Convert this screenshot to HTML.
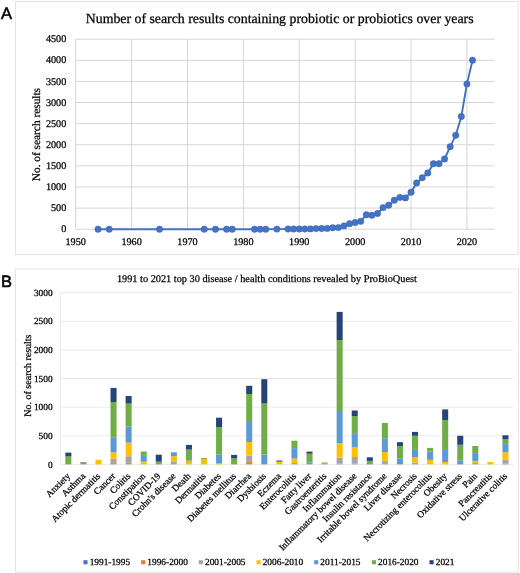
<!DOCTYPE html><html><head><meta charset="utf-8"><style>html,body{margin:0;padding:0;background:#fff;overflow:hidden}svg{display:block;will-change:transform}text{font-family:'Liberation Serif',serif;fill:#000;stroke:#000;stroke-width:0.25px;text-rendering:geometricPrecision}</style></head><body>
<svg width="520" height="573" viewBox="0 0 520 573">
<rect x="15.5" y="1.5" width="502.5" height="253.1" fill="none" stroke="#e4e4e4" stroke-width="1"/>
<rect x="15.5" y="269.0" width="503" height="303" fill="none" stroke="#e4e4e4" stroke-width="1"/>
<text x="0.9" y="19.3" style="font-family:'Liberation Sans',sans-serif;font-size:16.5px;stroke-width:0.55px">A</text>
<text x="1" y="287.2" style="font-family:'Liberation Sans',sans-serif;font-size:16.5px;stroke-width:0.55px">B</text>
<text x="85.8" y="23.3" style="font-size:13.82px">Number of search results containing probiotic or probiotics over years</text>
<line x1="75.7" x2="494.6" y1="229.20" y2="229.20" stroke="#d6d6d6" stroke-width="1"/>
<text x="66.3" y="232.30" text-anchor="end" style="font-size:10.2px">0</text>
<line x1="75.7" x2="494.6" y1="208.09" y2="208.09" stroke="#d6d6d6" stroke-width="1"/>
<text x="66.3" y="211.19" text-anchor="end" style="font-size:10.2px">500</text>
<line x1="75.7" x2="494.6" y1="186.98" y2="186.98" stroke="#d6d6d6" stroke-width="1"/>
<text x="66.3" y="190.08" text-anchor="end" style="font-size:10.2px">1000</text>
<line x1="75.7" x2="494.6" y1="165.87" y2="165.87" stroke="#d6d6d6" stroke-width="1"/>
<text x="66.3" y="168.97" text-anchor="end" style="font-size:10.2px">1500</text>
<line x1="75.7" x2="494.6" y1="144.76" y2="144.76" stroke="#d6d6d6" stroke-width="1"/>
<text x="66.3" y="147.86" text-anchor="end" style="font-size:10.2px">2000</text>
<line x1="75.7" x2="494.6" y1="123.64" y2="123.64" stroke="#d6d6d6" stroke-width="1"/>
<text x="66.3" y="126.74" text-anchor="end" style="font-size:10.2px">2500</text>
<line x1="75.7" x2="494.6" y1="102.53" y2="102.53" stroke="#d6d6d6" stroke-width="1"/>
<text x="66.3" y="105.63" text-anchor="end" style="font-size:10.2px">3000</text>
<line x1="75.7" x2="494.6" y1="81.42" y2="81.42" stroke="#d6d6d6" stroke-width="1"/>
<text x="66.3" y="84.52" text-anchor="end" style="font-size:10.2px">3500</text>
<line x1="75.7" x2="494.6" y1="60.31" y2="60.31" stroke="#d6d6d6" stroke-width="1"/>
<text x="66.3" y="63.41" text-anchor="end" style="font-size:10.2px">4000</text>
<line x1="75.7" x2="494.6" y1="39.20" y2="39.20" stroke="#d6d6d6" stroke-width="1"/>
<text x="66.3" y="42.30" text-anchor="end" style="font-size:10.2px">4500</text>
<line x1="75.70" x2="75.70" y1="39.20" y2="229.2" stroke="#d6d6d6" stroke-width="1"/>
<text x="75.70" y="245" text-anchor="middle" style="font-size:10.2px">1950</text>
<line x1="131.59" x2="131.59" y1="39.20" y2="229.2" stroke="#d6d6d6" stroke-width="1"/>
<text x="131.59" y="245" text-anchor="middle" style="font-size:10.2px">1960</text>
<line x1="187.48" x2="187.48" y1="39.20" y2="229.2" stroke="#d6d6d6" stroke-width="1"/>
<text x="187.48" y="245" text-anchor="middle" style="font-size:10.2px">1970</text>
<line x1="243.37" x2="243.37" y1="39.20" y2="229.2" stroke="#d6d6d6" stroke-width="1"/>
<text x="243.37" y="245" text-anchor="middle" style="font-size:10.2px">1980</text>
<line x1="299.26" x2="299.26" y1="39.20" y2="229.2" stroke="#d6d6d6" stroke-width="1"/>
<text x="299.26" y="245" text-anchor="middle" style="font-size:10.2px">1990</text>
<line x1="355.15" x2="355.15" y1="39.20" y2="229.2" stroke="#d6d6d6" stroke-width="1"/>
<text x="355.15" y="245" text-anchor="middle" style="font-size:10.2px">2000</text>
<line x1="411.04" x2="411.04" y1="39.20" y2="229.2" stroke="#d6d6d6" stroke-width="1"/>
<text x="411.04" y="245" text-anchor="middle" style="font-size:10.2px">2010</text>
<line x1="466.93" x2="466.93" y1="39.20" y2="229.2" stroke="#d6d6d6" stroke-width="1"/>
<text x="466.93" y="245" text-anchor="middle" style="font-size:10.2px">2020</text>
<text x="0" y="0" text-anchor="middle" transform="translate(40.2 134.6) rotate(-90)" style="font-size:11.35px">No. of search results</text>
<polyline points="98.06,229.20 109.23,229.20 159.54,229.20 204.25,229.20 215.43,229.20 226.60,229.20 232.19,229.20 254.55,229.20 260.14,229.20 265.73,229.20 276.90,229.10 288.08,229.00 293.67,229.00 299.26,229.00 304.85,229.00 310.44,228.90 316.03,228.60 321.62,228.50 327.21,228.40 332.79,227.80 338.38,227.60 343.97,225.90 349.56,223.70 355.15,222.50 360.74,221.30 366.33,214.70 371.92,215.30 377.51,213.50 383.10,207.60 388.68,205.20 394.27,200.30 399.86,197.40 405.45,197.90 411.04,192.20 416.63,183.00 422.22,177.70 427.81,173.00 433.40,163.70 438.99,163.70 444.57,159.00 450.16,146.70 455.75,135.30 461.34,116.50 466.93,83.90 472.52,60.20" fill="none" stroke="#4472c4" stroke-width="1.9" stroke-linejoin="round"/>
<circle cx="98.06" cy="229.20" r="3.2" fill="#4472c4" stroke="#3d68b8" stroke-width="0.5"/>
<circle cx="109.23" cy="229.20" r="3.2" fill="#4472c4" stroke="#3d68b8" stroke-width="0.5"/>
<circle cx="159.54" cy="229.20" r="3.2" fill="#4472c4" stroke="#3d68b8" stroke-width="0.5"/>
<circle cx="204.25" cy="229.20" r="3.2" fill="#4472c4" stroke="#3d68b8" stroke-width="0.5"/>
<circle cx="215.43" cy="229.20" r="3.2" fill="#4472c4" stroke="#3d68b8" stroke-width="0.5"/>
<circle cx="226.60" cy="229.20" r="3.2" fill="#4472c4" stroke="#3d68b8" stroke-width="0.5"/>
<circle cx="232.19" cy="229.20" r="3.2" fill="#4472c4" stroke="#3d68b8" stroke-width="0.5"/>
<circle cx="254.55" cy="229.20" r="3.2" fill="#4472c4" stroke="#3d68b8" stroke-width="0.5"/>
<circle cx="260.14" cy="229.20" r="3.2" fill="#4472c4" stroke="#3d68b8" stroke-width="0.5"/>
<circle cx="265.73" cy="229.20" r="3.2" fill="#4472c4" stroke="#3d68b8" stroke-width="0.5"/>
<circle cx="276.90" cy="229.10" r="3.2" fill="#4472c4" stroke="#3d68b8" stroke-width="0.5"/>
<circle cx="288.08" cy="229.00" r="3.2" fill="#4472c4" stroke="#3d68b8" stroke-width="0.5"/>
<circle cx="293.67" cy="229.00" r="3.2" fill="#4472c4" stroke="#3d68b8" stroke-width="0.5"/>
<circle cx="299.26" cy="229.00" r="3.2" fill="#4472c4" stroke="#3d68b8" stroke-width="0.5"/>
<circle cx="304.85" cy="229.00" r="3.2" fill="#4472c4" stroke="#3d68b8" stroke-width="0.5"/>
<circle cx="310.44" cy="228.90" r="3.2" fill="#4472c4" stroke="#3d68b8" stroke-width="0.5"/>
<circle cx="316.03" cy="228.60" r="3.2" fill="#4472c4" stroke="#3d68b8" stroke-width="0.5"/>
<circle cx="321.62" cy="228.50" r="3.2" fill="#4472c4" stroke="#3d68b8" stroke-width="0.5"/>
<circle cx="327.21" cy="228.40" r="3.2" fill="#4472c4" stroke="#3d68b8" stroke-width="0.5"/>
<circle cx="332.79" cy="227.80" r="3.2" fill="#4472c4" stroke="#3d68b8" stroke-width="0.5"/>
<circle cx="338.38" cy="227.60" r="3.2" fill="#4472c4" stroke="#3d68b8" stroke-width="0.5"/>
<circle cx="343.97" cy="225.90" r="3.2" fill="#4472c4" stroke="#3d68b8" stroke-width="0.5"/>
<circle cx="349.56" cy="223.70" r="3.2" fill="#4472c4" stroke="#3d68b8" stroke-width="0.5"/>
<circle cx="355.15" cy="222.50" r="3.2" fill="#4472c4" stroke="#3d68b8" stroke-width="0.5"/>
<circle cx="360.74" cy="221.30" r="3.2" fill="#4472c4" stroke="#3d68b8" stroke-width="0.5"/>
<circle cx="366.33" cy="214.70" r="3.2" fill="#4472c4" stroke="#3d68b8" stroke-width="0.5"/>
<circle cx="371.92" cy="215.30" r="3.2" fill="#4472c4" stroke="#3d68b8" stroke-width="0.5"/>
<circle cx="377.51" cy="213.50" r="3.2" fill="#4472c4" stroke="#3d68b8" stroke-width="0.5"/>
<circle cx="383.10" cy="207.60" r="3.2" fill="#4472c4" stroke="#3d68b8" stroke-width="0.5"/>
<circle cx="388.68" cy="205.20" r="3.2" fill="#4472c4" stroke="#3d68b8" stroke-width="0.5"/>
<circle cx="394.27" cy="200.30" r="3.2" fill="#4472c4" stroke="#3d68b8" stroke-width="0.5"/>
<circle cx="399.86" cy="197.40" r="3.2" fill="#4472c4" stroke="#3d68b8" stroke-width="0.5"/>
<circle cx="405.45" cy="197.90" r="3.2" fill="#4472c4" stroke="#3d68b8" stroke-width="0.5"/>
<circle cx="411.04" cy="192.20" r="3.2" fill="#4472c4" stroke="#3d68b8" stroke-width="0.5"/>
<circle cx="416.63" cy="183.00" r="3.2" fill="#4472c4" stroke="#3d68b8" stroke-width="0.5"/>
<circle cx="422.22" cy="177.70" r="3.2" fill="#4472c4" stroke="#3d68b8" stroke-width="0.5"/>
<circle cx="427.81" cy="173.00" r="3.2" fill="#4472c4" stroke="#3d68b8" stroke-width="0.5"/>
<circle cx="433.40" cy="163.70" r="3.2" fill="#4472c4" stroke="#3d68b8" stroke-width="0.5"/>
<circle cx="438.99" cy="163.70" r="3.2" fill="#4472c4" stroke="#3d68b8" stroke-width="0.5"/>
<circle cx="444.57" cy="159.00" r="3.2" fill="#4472c4" stroke="#3d68b8" stroke-width="0.5"/>
<circle cx="450.16" cy="146.70" r="3.2" fill="#4472c4" stroke="#3d68b8" stroke-width="0.5"/>
<circle cx="455.75" cy="135.30" r="3.2" fill="#4472c4" stroke="#3d68b8" stroke-width="0.5"/>
<circle cx="461.34" cy="116.50" r="3.2" fill="#4472c4" stroke="#3d68b8" stroke-width="0.5"/>
<circle cx="466.93" cy="83.90" r="3.2" fill="#4472c4" stroke="#3d68b8" stroke-width="0.5"/>
<circle cx="472.52" cy="60.20" r="3.2" fill="#4472c4" stroke="#3d68b8" stroke-width="0.5"/>
<text x="116.9" y="281.8" style="font-size:10.31px">1991 to 2021 top 30 disease / health conditions revealed by ProBioQuest</text>
<line x1="60.8" x2="513.0" y1="464.40" y2="464.40" stroke="#eaeaea" stroke-width="1"/>
<text x="52.6" y="467.60" text-anchor="end" style="font-size:9.35px">0</text>
<line x1="60.8" x2="513.0" y1="435.77" y2="435.77" stroke="#eaeaea" stroke-width="1"/>
<text x="52.6" y="438.97" text-anchor="end" style="font-size:9.35px">500</text>
<line x1="60.8" x2="513.0" y1="407.14" y2="407.14" stroke="#eaeaea" stroke-width="1"/>
<text x="52.6" y="410.34" text-anchor="end" style="font-size:9.35px">1000</text>
<line x1="60.8" x2="513.0" y1="378.51" y2="378.51" stroke="#eaeaea" stroke-width="1"/>
<text x="52.6" y="381.71" text-anchor="end" style="font-size:9.35px">1500</text>
<line x1="60.8" x2="513.0" y1="349.88" y2="349.88" stroke="#eaeaea" stroke-width="1"/>
<text x="52.6" y="353.08" text-anchor="end" style="font-size:9.35px">2000</text>
<line x1="60.8" x2="513.0" y1="321.25" y2="321.25" stroke="#eaeaea" stroke-width="1"/>
<text x="52.6" y="324.45" text-anchor="end" style="font-size:9.35px">2500</text>
<line x1="60.8" x2="513.0" y1="292.62" y2="292.62" stroke="#eaeaea" stroke-width="1"/>
<text x="52.6" y="295.82" text-anchor="end" style="font-size:9.35px">3000</text>
<line x1="60.5" x2="60.5" y1="292.62" y2="464.4" stroke="#eaeaea" stroke-width="1"/>
<text x="0" y="0" text-anchor="middle" transform="translate(30.6 375.6) rotate(-90)" style="font-size:10px">No. of search results</text>
<rect x="65.32" y="456.40" width="6.03" height="8.00" fill="#70ad47"/>
<rect x="65.32" y="452.60" width="6.03" height="3.80" fill="#264478"/>
<text x="70.74" y="476.60" text-anchor="end" transform="rotate(-45 70.74 476.60)" style="font-size:9.3px">Anxiety</text>
<rect x="80.40" y="462.00" width="6.03" height="2.40" fill="#8c9a84"/>
<text x="85.81" y="476.60" text-anchor="end" transform="rotate(-45 85.81 476.60)" style="font-size:9.3px">Asthma</text>
<rect x="95.47" y="459.80" width="6.03" height="4.60" fill="#ffc000"/>
<text x="100.88" y="476.60" text-anchor="end" transform="rotate(-45 100.88 476.60)" style="font-size:9.3px">Atopic dermatitis</text>
<rect x="110.54" y="462.20" width="6.03" height="2.20" fill="#c8917a"/>
<rect x="110.54" y="458.60" width="6.03" height="3.60" fill="#a5a5a5"/>
<rect x="110.54" y="452.30" width="6.03" height="6.30" fill="#ffc000"/>
<rect x="110.54" y="437.80" width="6.03" height="14.50" fill="#5b9bd5"/>
<rect x="110.54" y="402.00" width="6.03" height="35.80" fill="#70ad47"/>
<rect x="110.54" y="387.90" width="6.03" height="14.10" fill="#264478"/>
<text x="115.96" y="476.60" text-anchor="end" transform="rotate(-45 115.96 476.60)" style="font-size:9.3px">Cancer</text>
<rect x="125.62" y="462.20" width="6.03" height="2.20" fill="#c8917a"/>
<rect x="125.62" y="456.20" width="6.03" height="6.00" fill="#a5a5a5"/>
<rect x="125.62" y="442.60" width="6.03" height="13.60" fill="#ffc000"/>
<rect x="125.62" y="426.50" width="6.03" height="16.10" fill="#5b9bd5"/>
<rect x="125.62" y="403.60" width="6.03" height="22.90" fill="#70ad47"/>
<rect x="125.62" y="396.00" width="6.03" height="7.60" fill="#264478"/>
<text x="131.03" y="476.60" text-anchor="end" transform="rotate(-45 131.03 476.60)" style="font-size:9.3px">Colitis</text>
<rect x="140.69" y="461.70" width="6.03" height="2.70" fill="#ffc000"/>
<rect x="140.69" y="455.90" width="6.03" height="5.80" fill="#5b9bd5"/>
<rect x="140.69" y="451.50" width="6.03" height="4.40" fill="#70ad47"/>
<text x="146.10" y="476.60" text-anchor="end" transform="rotate(-45 146.10 476.60)" style="font-size:9.3px">Constipation</text>
<rect x="155.76" y="461.70" width="6.03" height="2.70" fill="#70ad47"/>
<rect x="155.76" y="454.70" width="6.03" height="7.00" fill="#264478"/>
<text x="161.18" y="476.60" text-anchor="end" transform="rotate(-45 161.18 476.60)" style="font-size:9.3px">COVID-19</text>
<rect x="170.84" y="461.30" width="6.03" height="3.10" fill="#a5a5a5"/>
<rect x="170.84" y="456.20" width="6.03" height="5.10" fill="#ffc000"/>
<rect x="170.84" y="452.30" width="6.03" height="3.90" fill="#5b9bd5"/>
<text x="176.25" y="476.60" text-anchor="end" transform="rotate(-45 176.25 476.60)" style="font-size:9.3px">Crohn's disease</text>
<rect x="185.91" y="461.50" width="6.03" height="2.90" fill="#ffc000"/>
<rect x="185.91" y="460.60" width="6.03" height="0.90" fill="#5b9bd5"/>
<rect x="185.91" y="449.60" width="6.03" height="11.00" fill="#70ad47"/>
<rect x="185.91" y="444.90" width="6.03" height="4.70" fill="#264478"/>
<text x="191.32" y="476.60" text-anchor="end" transform="rotate(-45 191.32 476.60)" style="font-size:9.3px">Death</text>
<rect x="200.98" y="459.40" width="6.03" height="5.00" fill="#ffc000"/>
<rect x="200.98" y="458.10" width="6.03" height="1.30" fill="#70ad47"/>
<text x="206.40" y="476.60" text-anchor="end" transform="rotate(-45 206.40 476.60)" style="font-size:9.3px">Dermatitis</text>
<rect x="216.06" y="463.50" width="6.03" height="0.90" fill="#ffc000"/>
<rect x="216.06" y="454.40" width="6.03" height="9.10" fill="#5b9bd5"/>
<rect x="216.06" y="427.30" width="6.03" height="27.10" fill="#70ad47"/>
<rect x="216.06" y="417.70" width="6.03" height="9.60" fill="#264478"/>
<text x="221.47" y="476.60" text-anchor="end" transform="rotate(-45 221.47 476.60)" style="font-size:9.3px">Diabetes</text>
<rect x="231.13" y="458.30" width="6.03" height="6.10" fill="#70ad47"/>
<rect x="231.13" y="454.90" width="6.03" height="3.40" fill="#264478"/>
<text x="236.54" y="476.60" text-anchor="end" transform="rotate(-45 236.54 476.60)" style="font-size:9.3px">Diabetes mellitus</text>
<rect x="246.20" y="461.90" width="6.03" height="2.50" fill="#ed7d31"/>
<rect x="246.20" y="455.60" width="6.03" height="6.30" fill="#a5a5a5"/>
<rect x="246.20" y="442.00" width="6.03" height="13.60" fill="#ffc000"/>
<rect x="246.20" y="422.00" width="6.03" height="20.00" fill="#5b9bd5"/>
<rect x="246.20" y="394.00" width="6.03" height="28.00" fill="#70ad47"/>
<rect x="246.20" y="385.80" width="6.03" height="8.20" fill="#264478"/>
<text x="251.62" y="476.60" text-anchor="end" transform="rotate(-45 251.62 476.60)" style="font-size:9.3px">Diarrhea</text>
<rect x="261.28" y="454.40" width="6.03" height="10.00" fill="#5b9bd5"/>
<rect x="261.28" y="403.50" width="6.03" height="50.90" fill="#70ad47"/>
<rect x="261.28" y="379.20" width="6.03" height="24.30" fill="#264478"/>
<text x="266.69" y="476.60" text-anchor="end" transform="rotate(-45 266.69 476.60)" style="font-size:9.3px">Dysbiosis</text>
<rect x="276.35" y="461.80" width="6.03" height="2.60" fill="#ffc000"/>
<rect x="276.35" y="460.40" width="6.03" height="1.40" fill="#4f6a86"/>
<text x="281.76" y="476.60" text-anchor="end" transform="rotate(-45 281.76 476.60)" style="font-size:9.3px">Eczema</text>
<rect x="291.42" y="463.00" width="6.03" height="1.40" fill="#a5a5a5"/>
<rect x="291.42" y="458.50" width="6.03" height="4.50" fill="#ffc000"/>
<rect x="291.42" y="448.10" width="6.03" height="10.40" fill="#5b9bd5"/>
<rect x="291.42" y="440.70" width="6.03" height="7.40" fill="#70ad47"/>
<text x="296.84" y="476.60" text-anchor="end" transform="rotate(-45 296.84 476.60)" style="font-size:9.3px">Enterocolitis</text>
<rect x="306.50" y="462.30" width="6.03" height="2.10" fill="#5b9bd5"/>
<rect x="306.50" y="453.70" width="6.03" height="8.60" fill="#70ad47"/>
<rect x="306.50" y="451.60" width="6.03" height="2.10" fill="#264478"/>
<text x="311.91" y="476.60" text-anchor="end" transform="rotate(-45 311.91 476.60)" style="font-size:9.3px">Fatty liver</text>
<rect x="321.57" y="462.40" width="6.03" height="2.00" fill="#bba85a"/>
<text x="326.98" y="476.60" text-anchor="end" transform="rotate(-45 326.98 476.60)" style="font-size:9.3px">Gastroenteritis</text>
<rect x="336.64" y="463.60" width="6.03" height="0.80" fill="#c8917a"/>
<rect x="336.64" y="457.60" width="6.03" height="6.00" fill="#a5a5a5"/>
<rect x="336.64" y="443.10" width="6.03" height="14.50" fill="#ffc000"/>
<rect x="336.64" y="412.00" width="6.03" height="31.10" fill="#5b9bd5"/>
<rect x="336.64" y="340.00" width="6.03" height="72.00" fill="#70ad47"/>
<rect x="336.64" y="311.90" width="6.03" height="28.10" fill="#264478"/>
<text x="342.06" y="476.60" text-anchor="end" transform="rotate(-45 342.06 476.60)" style="font-size:9.3px">Inflammation</text>
<rect x="351.72" y="463.60" width="6.03" height="0.80" fill="#c8917a"/>
<rect x="351.72" y="457.00" width="6.03" height="6.60" fill="#a5a5a5"/>
<rect x="351.72" y="447.30" width="6.03" height="9.70" fill="#ffc000"/>
<rect x="351.72" y="433.90" width="6.03" height="13.40" fill="#5b9bd5"/>
<rect x="351.72" y="416.10" width="6.03" height="17.80" fill="#70ad47"/>
<rect x="351.72" y="410.50" width="6.03" height="5.60" fill="#264478"/>
<text x="357.13" y="476.60" text-anchor="end" transform="rotate(-45 357.13 476.60)" style="font-size:9.3px">Inflammatory bowel disease</text>
<rect x="366.79" y="460.90" width="6.03" height="3.50" fill="#70ad47"/>
<rect x="366.79" y="457.30" width="6.03" height="3.60" fill="#264478"/>
<text x="372.20" y="476.60" text-anchor="end" transform="rotate(-45 372.20 476.60)" style="font-size:9.3px">Insulin resistance</text>
<rect x="381.86" y="460.90" width="6.03" height="3.50" fill="#a5a5a5"/>
<rect x="381.86" y="452.00" width="6.03" height="8.90" fill="#ffc000"/>
<rect x="381.86" y="438.20" width="6.03" height="13.80" fill="#5b9bd5"/>
<rect x="381.86" y="422.90" width="6.03" height="15.30" fill="#70ad47"/>
<text x="387.28" y="476.60" text-anchor="end" transform="rotate(-45 387.28 476.60)" style="font-size:9.3px">Irritable bowel syndrome</text>
<rect x="396.94" y="458.30" width="6.03" height="6.10" fill="#5b9bd5"/>
<rect x="396.94" y="446.00" width="6.03" height="12.30" fill="#70ad47"/>
<rect x="396.94" y="442.20" width="6.03" height="3.80" fill="#264478"/>
<text x="402.35" y="476.60" text-anchor="end" transform="rotate(-45 402.35 476.60)" style="font-size:9.3px">Liver disease</text>
<rect x="412.01" y="462.50" width="6.03" height="1.90" fill="#a5a5a5"/>
<rect x="412.01" y="457.00" width="6.03" height="5.50" fill="#ffc000"/>
<rect x="412.01" y="449.90" width="6.03" height="7.10" fill="#5b9bd5"/>
<rect x="412.01" y="435.80" width="6.03" height="14.10" fill="#70ad47"/>
<rect x="412.01" y="431.90" width="6.03" height="3.90" fill="#264478"/>
<text x="417.42" y="476.60" text-anchor="end" transform="rotate(-45 417.42 476.60)" style="font-size:9.3px">Necrosis</text>
<rect x="427.08" y="459.80" width="6.03" height="4.60" fill="#ffc000"/>
<rect x="427.08" y="451.50" width="6.03" height="8.30" fill="#5b9bd5"/>
<rect x="427.08" y="447.90" width="6.03" height="3.60" fill="#70ad47"/>
<text x="432.50" y="476.60" text-anchor="end" transform="rotate(-45 432.50 476.60)" style="font-size:9.3px">Necrotizing enterocolitis</text>
<rect x="442.16" y="462.00" width="6.03" height="2.40" fill="#ffc000"/>
<rect x="442.16" y="449.90" width="6.03" height="12.10" fill="#5b9bd5"/>
<rect x="442.16" y="420.10" width="6.03" height="29.80" fill="#70ad47"/>
<rect x="442.16" y="409.40" width="6.03" height="10.70" fill="#264478"/>
<text x="447.57" y="476.60" text-anchor="end" transform="rotate(-45 447.57 476.60)" style="font-size:9.3px">Obesity</text>
<rect x="457.23" y="460.20" width="6.03" height="4.20" fill="#5b9bd5"/>
<rect x="457.23" y="444.80" width="6.03" height="15.40" fill="#70ad47"/>
<rect x="457.23" y="435.80" width="6.03" height="9.00" fill="#264478"/>
<text x="462.64" y="476.60" text-anchor="end" transform="rotate(-45 462.64 476.60)" style="font-size:9.3px">Oxidative stress</text>
<rect x="472.30" y="463.00" width="6.03" height="1.40" fill="#bba85a"/>
<rect x="472.30" y="460.90" width="6.03" height="2.10" fill="#ffc000"/>
<rect x="472.30" y="453.90" width="6.03" height="7.00" fill="#5b9bd5"/>
<rect x="472.30" y="446.00" width="6.03" height="7.90" fill="#70ad47"/>
<text x="477.72" y="476.60" text-anchor="end" transform="rotate(-45 477.72 476.60)" style="font-size:9.3px">Pain</text>
<rect x="487.38" y="462.00" width="6.03" height="2.40" fill="#ffc000"/>
<text x="492.79" y="476.60" text-anchor="end" transform="rotate(-45 492.79 476.60)" style="font-size:9.3px">Pancreatitis</text>
<rect x="502.45" y="463.40" width="6.03" height="1.00" fill="#c8917a"/>
<rect x="502.45" y="459.40" width="6.03" height="4.00" fill="#a5a5a5"/>
<rect x="502.45" y="452.30" width="6.03" height="7.10" fill="#ffc000"/>
<rect x="502.45" y="444.10" width="6.03" height="8.20" fill="#5b9bd5"/>
<rect x="502.45" y="439.00" width="6.03" height="5.10" fill="#70ad47"/>
<rect x="502.45" y="435.30" width="6.03" height="3.70" fill="#264478"/>
<text x="507.86" y="476.60" text-anchor="end" transform="rotate(-45 507.86 476.60)" style="font-size:9.3px">Ulcerative colitis</text>
<rect x="83.45" y="560.2" width="4.1" height="4.1" fill="#4472c4"/>
<text x="89.65" y="564.5" style="font-size:9.35px">1991-1995</text>
<rect x="141.13" y="560.2" width="4.1" height="4.1" fill="#ed7d31"/>
<text x="147.33" y="564.5" style="font-size:9.35px">1996-2000</text>
<rect x="198.81" y="560.2" width="4.1" height="4.1" fill="#a5a5a5"/>
<text x="205.01" y="564.5" style="font-size:9.35px">2001-2005</text>
<rect x="256.49" y="560.2" width="4.1" height="4.1" fill="#ffc000"/>
<text x="262.69" y="564.5" style="font-size:9.35px">2006-2010</text>
<rect x="314.17" y="560.2" width="4.1" height="4.1" fill="#5b9bd5"/>
<text x="320.37" y="564.5" style="font-size:9.35px">2011-2015</text>
<rect x="371.85" y="560.2" width="4.1" height="4.1" fill="#70ad47"/>
<text x="378.05" y="564.5" style="font-size:9.35px">2016-2020</text>
<rect x="429.53" y="560.2" width="4.1" height="4.1" fill="#264478"/>
<text x="435.73" y="564.5" style="font-size:9.35px">2021</text>
</svg></body></html>
